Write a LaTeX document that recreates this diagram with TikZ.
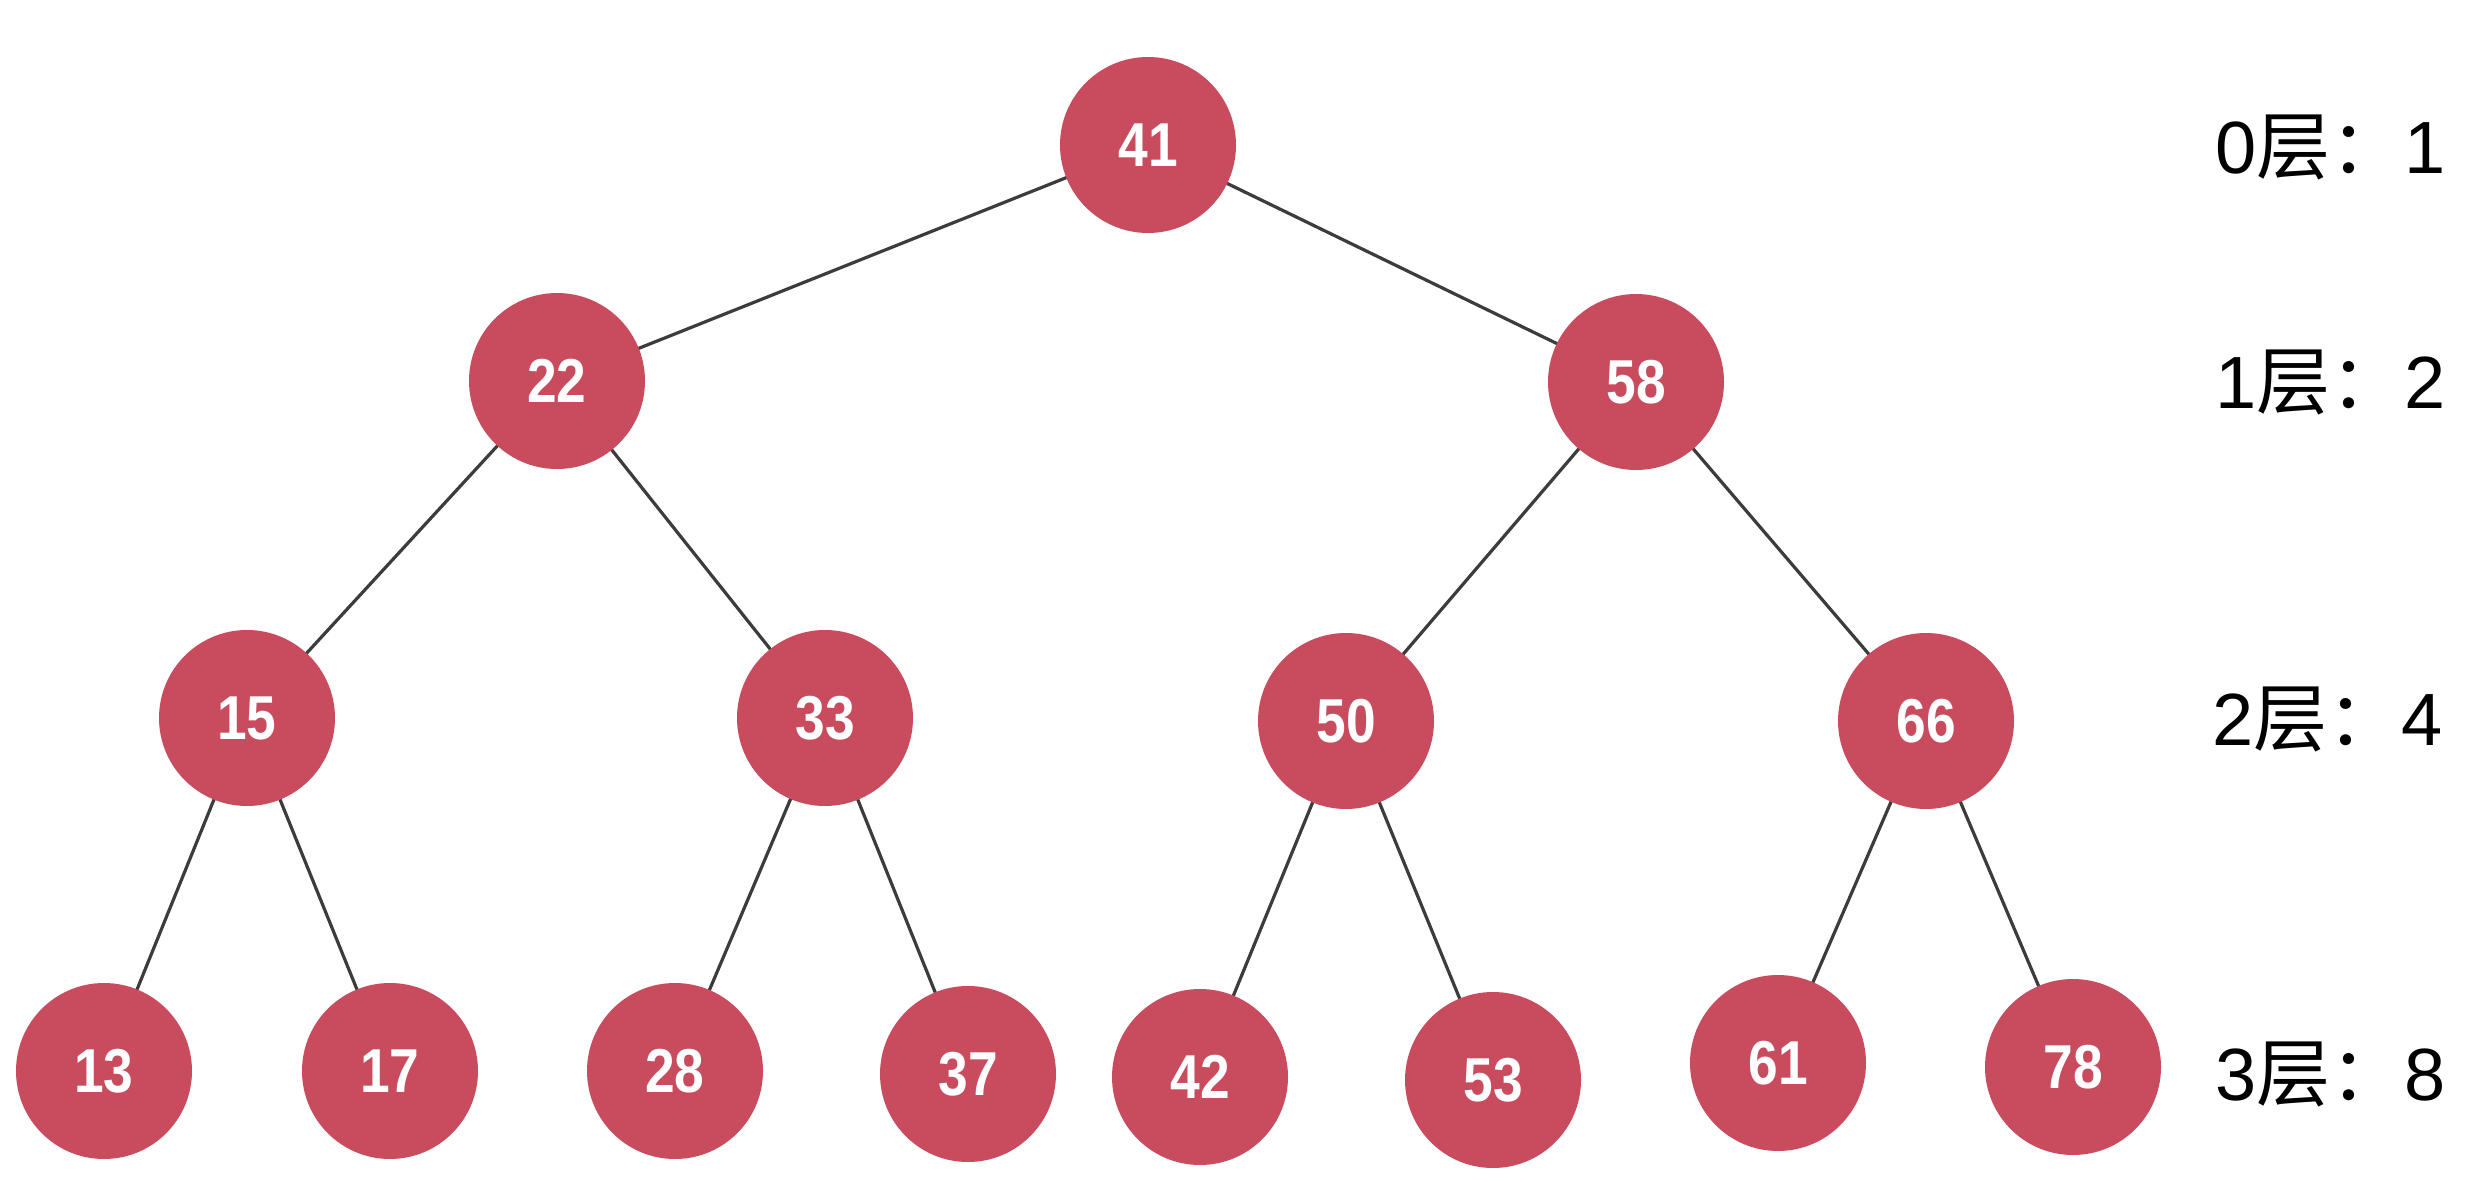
\documentclass[tikz,border=0pt]{standalone}
\usepackage{fontspec}
\setmainfont{Liberation Sans}
\newfontfamily\cjk{Noto Sans CJK SC}
\newfontfamily\numfont[FakeStretch=0.86]{Liberation Sans Bold}
\definecolor{nodered}{RGB}{201,76,94}
\definecolor{edgegray}{RGB}{60,60,60}
\tikzset{
  tnode/.style={circle, fill=nodered, draw=none, minimum size=176pt, inner sep=0pt,
    text=white, font=\numfont\fontsize{62}{62}\selectfont},
  tedge/.style={draw=edgegray, line width=3.2pt},
  lvl/.style={anchor=west, inner sep=0pt, font=\fontsize{74}{74}\selectfont}
}
\begin{document}
\begin{tikzpicture}[x=1pt,y=-1pt]
\useasboundingbox (0,0) rectangle (2490,1182);
\fill[white] (0,0) rectangle (2490,1182);
% edges first (behind)
\coordinate (c41) at (1148,145);
\coordinate (c22) at (557,381);
\coordinate (c58) at (1636,382);
\coordinate (c15) at (247,718);
\coordinate (c33) at (825,718);
\coordinate (c50) at (1346,721);
\coordinate (c66) at (1926,721);
\coordinate (c13) at (104,1071);
\coordinate (c17) at (390,1071);
\coordinate (c28) at (675,1071);
\coordinate (c37) at (968,1074);
\coordinate (c42) at (1200,1077);
\coordinate (c53) at (1493,1080);
\coordinate (c61) at (1778,1063);
\coordinate (c78) at (2073,1067);
\draw[tedge] (c41) -- (c22);
\draw[tedge] (c41) -- (c58);
\draw[tedge] (c22) -- (c15);
\draw[tedge] (c22) -- (c33);
\draw[tedge] (c58) -- (c50);
\draw[tedge] (c58) -- (c66);
\draw[tedge] (c15) -- (c13);
\draw[tedge] (c15) -- (c17);
\draw[tedge] (c33) -- (c28);
\draw[tedge] (c33) -- (c37);
\draw[tedge] (c50) -- (c42);
\draw[tedge] (c50) -- (c53);
\draw[tedge] (c66) -- (c61);
\draw[tedge] (c66) -- (c78);
% nodes
\node[tnode] (n41) at (c41) {41};
\node[tnode] (n22) at (c22) {22};
\node[tnode] (n58) at (c58) {58};
\node[tnode] (n15) at (c15) {15};
\node[tnode] (n33) at (c33) {33};
\node[tnode] (n50) at (c50) {50};
\node[tnode] (n66) at (c66) {66};
\node[tnode] (n13) at (c13) {13};
\node[tnode] (n17) at (c17) {17};
\node[tnode] (n28) at (c28) {28};
\node[tnode] (n37) at (c37) {37};
\node[tnode] (n42) at (c42) {42};
\node[tnode] (n53) at (c53) {53};
\node[tnode] (n61) at (c61) {61};
\node[tnode] (n78) at (c78) {78};
% level labels
\node[lvl] (l0) at (2215,147) {0{\cjk 层：}1};
\node[lvl] (l1) at (2215,382) {1{\cjk 层：}2};
\node[lvl] (l2) at (2212,719) {2{\cjk 层：}4};
\node[lvl] (l3) at (2215,1074) {3{\cjk 层：}8};
\end{tikzpicture}
\end{document}
